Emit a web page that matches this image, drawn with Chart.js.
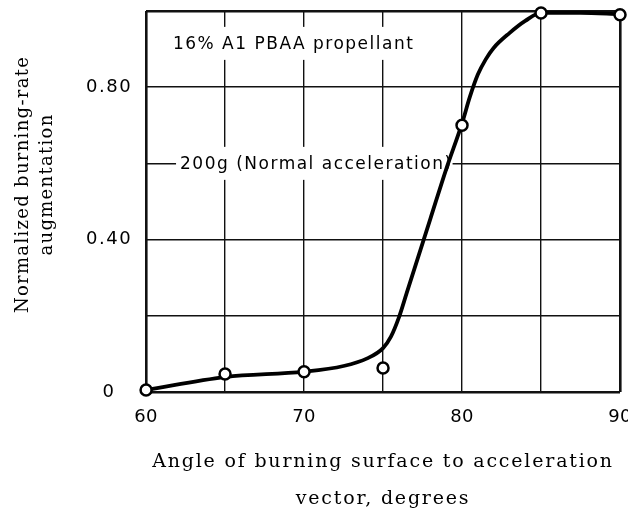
<!DOCTYPE html>
<html>
<head>
<meta charset="utf-8">
<script src="https://cdn.jsdelivr.net/npm/chart.js@4.4.1/dist/chart.umd.min.js"></script>
<style>
  html, body { margin: 0; padding: 0; background: #fff; }
  #wrap { width: 628px; height: 511px; position: relative; }
</style>
</head>
<body>
<div id="wrap"><canvas id="c" width="628" height="511"></canvas></div>
<script>
// ---- data ----
const pointAngles = [60, 65, 70, 75, 80, 85, 90];
const pointValues = [0.005, 0.047, 0.053, 0.063, 0.70, 0.995, 0.99];

const curveAngles = [60, 65, 70, 72.5, 74, 75, 75.5, 76, 76.5, 77, 78, 79, 80, 80.5, 81, 81.5, 82, 83, 84, 85, 87.5, 90];
const curveValues = [0.005, 0.039, 0.053, 0.068, 0.088, 0.115, 0.145, 0.195, 0.26, 0.325, 0.455, 0.585, 0.705, 0.775, 0.833, 0.873, 0.903, 0.942, 0.974, 0.995, 0.995, 0.992];

const xTickLabels = {60: '60', 70: '70', 80: '80', 90: '90'};
const yTickLabels = {0: '0', 0.4: '0.40', 0.8: '0.80'};

const xTitle = ['Angle of burning surface to acceleration', 'vector, degrees'];
const yTitle = ['Normalized burning-rate', 'augmentation'];

const notes = [
  {text: '16% A1 PBAA propellant', x: 61.7, y: 0.915},
  {text: '200g (Normal acceleration)', x: 62.15, y: 0.60}
];

// ---- plugins ----
const tweaks = {
  id: 'tweaks',
  afterLayout(chart) {
    const wrap = (scale, name, fn) => {
      if (scale['_w_' + name]) return;
      const orig = scale[name];
      scale[name] = function (...a) {
        const c = this.ctx; c.save(); fn(c); orig.apply(this, a); c.restore();
      };
      scale['_w_' + name] = true;
    };
    const {x, y} = chart.scales;
    wrap(x, 'drawTitle', c => { c.letterSpacing = '1.8px'; });
    wrap(y, 'drawTitle', c => { c.letterSpacing = '1.3px'; c.translate(0, -17); });
    wrap(x, 'drawLabels', c => { c.letterSpacing = '0.3px'; });
    wrap(y, 'drawLabels', c => { c.letterSpacing = '1.5px'; });
  },
  beforeDatasetsDraw(chart) {
    const {ctx, scales: {x, y}} = chart;
    ctx.save();
    ctx.font = '17px "DejaVu Sans"';
    ctx.letterSpacing = '1.5px';
    ctx.textBaseline = 'middle';
    ctx.textAlign = 'left';
    notes.forEach(n => {
      const px = x.getPixelForValue(n.x);
      const py = y.getPixelForValue(n.y);
      const w = ctx.measureText(n.text).width;
      ctx.fillStyle = '#fff';
      ctx.fillRect(px - 4, py - 16.5, w + 4, 33);
      ctx.fillStyle = '#000';
      ctx.fillText(n.text, px, py + 1);
    });
    ctx.restore();
  }
};

const gridW = (lo, hi) => ctx => (ctx.tick && (ctx.tick.value === lo || ctx.tick.value === hi)) ? 2.6 : 1.4;

new Chart(document.getElementById('c'), {
  type: 'scatter',
  data: {
    datasets: [
      {
        label: 'measured',
        data: pointAngles.map((a, i) => ({x: a, y: pointValues[i]})),
        showLine: false,
        pointStyle: 'circle',
        pointRadius: 5.5,
        pointBorderWidth: 2.5,
        pointBackgroundColor: '#fff',
        pointBorderColor: '#000',
        clip: false,
        order: 0
      },
      {
        label: 'curve',
        data: curveAngles.map((a, i) => ({x: a, y: curveValues[i]})),
        showLine: true,
        borderColor: '#000',
        borderWidth: 3.8,
        pointRadius: 0,
        cubicInterpolationMode: 'monotone',
        fill: false,
        clip: false,
        order: 1
      }
    ]
  },
  options: {
    responsive: false,
    animation: false,
    events: [],
    layout: {padding: {top: 11, right: 6, left: 0, bottom: 0}},
    plugins: {legend: {display: false}, tooltip: {enabled: false}},
    scales: {
      x: {
        type: 'linear',
        min: 60, max: 90,
        afterFit(s) { s.paddingLeft = 0; s.paddingRight = 0; },
        ticks: {
          stepSize: 5,
          autoSkip: false,
          maxRotation: 0,
          padding: 15,
          color: '#000',
          font: {family: '"DejaVu Sans"', size: 18},
          callback: v => xTickLabels[v] !== undefined ? xTickLabels[v] : ''
        },
        grid: {color: '#111', lineWidth: gridW(60, 90), drawTicks: false, tickLength: 0},
        border: {display: false},
        title: {
          display: true,
          text: xTitle,
          color: '#000',
          font: {family: '"DejaVu Serif"', size: 19, lineHeight: '37px'},
          padding: {top: 0, bottom: -6.5}
        }
      },
      y: {
        type: 'linear',
        min: 0, max: 1.0,
        afterFit(s) { s.paddingTop = 0; s.paddingBottom = 0; },
        ticks: {
          stepSize: 0.2,
          autoSkip: false,
          padding: 17,
          crossAlign: 'center',
          color: '#000',
          font: {family: '"DejaVu Sans"', size: 18},
          callback: v => {
            const k = Math.round(v * 10) / 10;
            return yTickLabels[k] !== undefined ? yTickLabels[k] : '';
          }
        },
        grid: {color: '#111', lineWidth: gridW(0, 1), drawTicks: false, tickLength: 0},
        border: {display: false},
        title: {
          display: true,
          text: yTitle,
          color: '#000',
          font: {family: '"DejaVu Serif"', size: 18, lineHeight: '24px'},
          padding: {top: 11, bottom: 13}
        }
      }
    }
  },
  plugins: [tweaks]
});
</script>
</body>
</html>
